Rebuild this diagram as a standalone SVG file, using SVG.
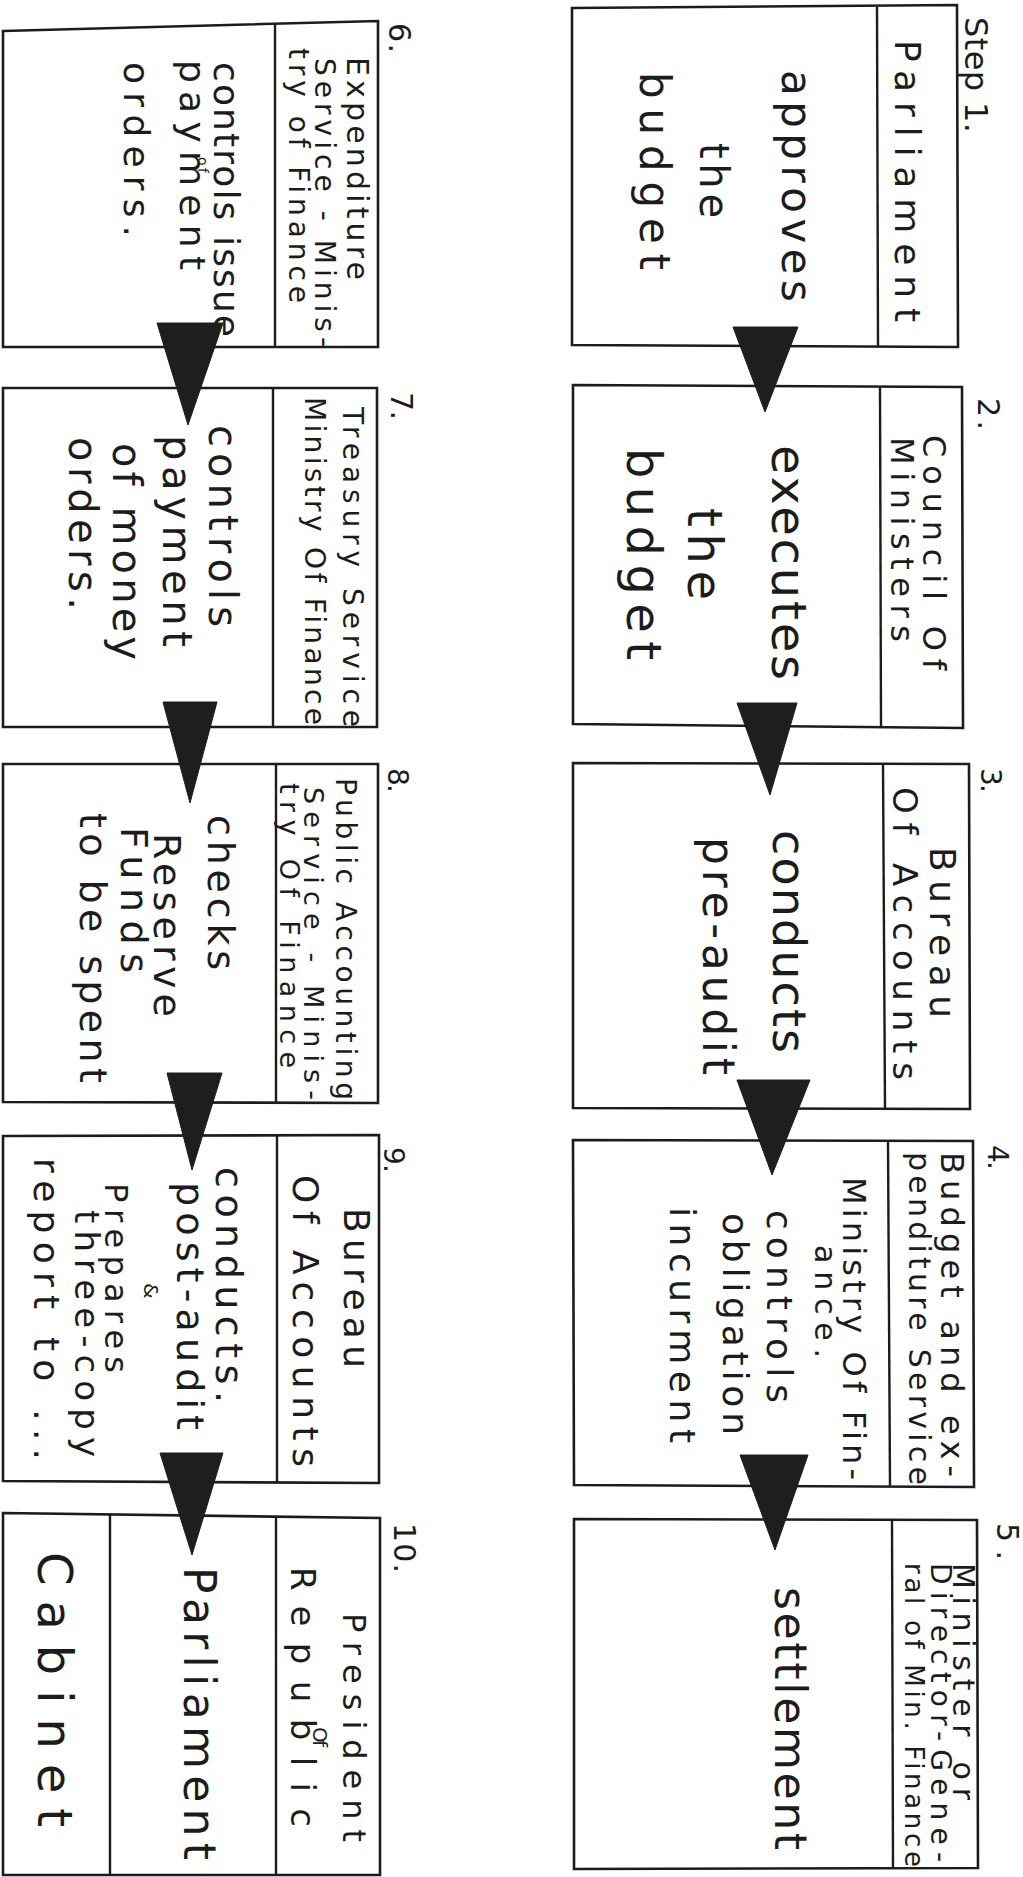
<svg xmlns="http://www.w3.org/2000/svg" width="1023" height="1877" viewBox="0 0 1023 1877">
<style>
.bg{fill:#ffffff}
.box{fill:none;stroke:#1c1c1c;stroke-width:2.6;stroke-linejoin:miter}
.div{fill:none;stroke:#1c1c1c;stroke-width:2.4}
.t{font-family:'DejaVu Sans','Liberation Sans',sans-serif;fill:#1c1c1c}
.arrow{fill:#1e1e1e;stroke:#1e1e1e;stroke-width:1}
</style>
<rect class="bg" x="0" y="0" width="1023" height="1877"/>

<g id="step1">
<path class="box" d="M572,8 L957,5 L958,347 L572,345 Z"/>
<line class="div" x1="877" y1="7" x2="878" y2="346"/>
<text class="t" transform="translate(965,17) rotate(90)" font-size="32" textLength="116">Step 1.</text>
<text class="t" transform="translate(895,40) rotate(90)" font-size="36" textLength="282">Parliament</text>
<text class="t" transform="translate(782,70) rotate(90)" font-size="42" textLength="232">approves</text>
<text class="t" transform="translate(700,143) rotate(90)" font-size="40" textLength="75">the</text>
<text class="t" transform="translate(640,72) rotate(90)" font-size="42" textLength="198">budget</text>
</g>

<g id="step2">
<path class="box" d="M573,385 L962,387 L963,728 L573,724 Z"/>
<line class="div" x1="880" y1="386" x2="881" y2="727"/>
<text class="t" transform="translate(978,398) rotate(90)" font-size="30" textLength="32">2.</text>
<text class="t" transform="translate(923,435) rotate(90)" font-size="32" textLength="235">Council Of</text>
<text class="t" transform="translate(891,437) rotate(90)" font-size="32" textLength="205">Ministers</text>
<text class="t" transform="translate(772,445) rotate(90)" font-size="48" textLength="235">executes</text>
<text class="t" transform="translate(688,508) rotate(90)" font-size="48" textLength="92">the</text>
<text class="t" transform="translate(627,448) rotate(90)" font-size="48" textLength="212">budget</text>
</g>

<g id="step3">
<path class="box" d="M573,763 L969,764 L970,1109 L573,1108 Z"/>
<line class="div" x1="883" y1="764" x2="885" y2="1108"/>
<text class="t" transform="translate(981,768) rotate(90)" font-size="28" textLength="25">3.</text>
<text class="t" transform="translate(930,847) rotate(90)" font-size="36" textLength="171">Bureau</text>
<text class="t" transform="translate(893,787) rotate(90)" font-size="34" textLength="293">Of Accounts</text>
<text class="t" transform="translate(773,830) rotate(90)" font-size="46" textLength="223">conducts</text>
<text class="t" transform="translate(703,837) rotate(90)" font-size="44" textLength="238">pre-audit</text>
</g>

<g id="step4">
<path class="box" d="M573,1140 L973,1141 L974,1487 L574,1485 Z"/>
<line class="div" x1="888" y1="1141" x2="890" y2="1486"/>
<text class="t" transform="translate(988,1145) rotate(90)" font-size="28" textLength="25">4.</text>
<text class="t" transform="translate(941,1152) rotate(90)" font-size="32" textLength="325">Budget and ex-</text>
<text class="t" transform="translate(909,1152) rotate(90)" font-size="30" textLength="333">penditure Service</text>
<text class="t" transform="translate(843,1177) rotate(90)" font-size="32" textLength="303">Ministry Of Fin-</text>
<text class="t" transform="translate(815,1245) rotate(90)" font-size="30" textLength="113">ance.</text>
<text class="t" transform="translate(767,1210) rotate(90)" font-size="36" textLength="193">controls</text>
<text class="t" transform="translate(723,1213) rotate(90)" font-size="36" textLength="222">obligation</text>
<text class="t" transform="translate(670,1207) rotate(90)" font-size="36" textLength="236">incurment</text>
</g>

<g id="step5">
<path class="box" d="M574,1519 L977,1520 L978,1868 L574,1869 Z"/>
<line class="div" x1="892" y1="1520" x2="893" y2="1868"/>
<text class="t" transform="translate(997,1523) rotate(90)" font-size="30" textLength="37">5.</text>
<text class="t" transform="translate(953,1563) rotate(90)" font-size="30" textLength="237">Minister or</text>
<text class="t" transform="translate(931,1563) rotate(90)" font-size="28" textLength="299">Director-Gene-</text>
<text class="t" transform="translate(905,1563) rotate(90)" font-size="26" textLength="304">ral of Min. Finance</text>
<text class="t" transform="translate(775,1587) rotate(90)" font-size="44" textLength="263">settlement</text>
</g>

<g id="step6">
<path class="box" d="M3,31 L378,21 L378,347 L3,347 Z"/>
<line class="div" x1="275" y1="24" x2="275" y2="347"/>
<text class="t" transform="translate(389,23) rotate(90)" font-size="30" textLength="30">6.</text>
<text class="t" transform="translate(347,57) rotate(90)" font-size="30" textLength="223">Expenditure</text>
<text class="t" transform="translate(315,58) rotate(90)" font-size="28" textLength="289">Service - Minis-</text>
<text class="t" transform="translate(289,48) rotate(90)" font-size="28" textLength="255">try of Finance</text>
<text class="t" transform="translate(214,62) rotate(90)" font-size="36" textLength="275">controls issue</text>
<text class="t" transform="translate(198,157) rotate(90)" font-size="14" textLength="16">of</text>
<text class="t" transform="translate(180,60) rotate(90)" font-size="36" textLength="210">payment</text>
<text class="t" transform="translate(124,62) rotate(90)" font-size="36" textLength="175">orders.</text>
</g>

<g id="step7">
<path class="box" d="M3,388 L377,388 L377,727 L3,727 Z"/>
<line class="div" x1="273" y1="388" x2="273" y2="727"/>
<text class="t" transform="translate(391,392) rotate(90)" font-size="30" textLength="28">7.</text>
<text class="t" transform="translate(343,407) rotate(90)" font-size="28" textLength="320">Treasury Service</text>
<text class="t" transform="translate(305,397) rotate(90)" font-size="28" textLength="328">Ministry Of Finance</text>
<text class="t" transform="translate(209,425) rotate(90)" font-size="40" textLength="202">controls</text>
<text class="t" transform="translate(163,435) rotate(90)" font-size="40" textLength="212">payment</text>
<text class="t" transform="translate(113,443) rotate(90)" font-size="40" textLength="217">of money</text>
<text class="t" transform="translate(69,437) rotate(90)" font-size="40" textLength="173">orders.</text>
</g>

<g id="step8">
<path class="box" d="M3,764 L378,764 L378,1103 L3,1102 Z"/>
<line class="div" x1="276" y1="764" x2="276" y2="1103"/>
<text class="t" transform="translate(388,768) rotate(90)" font-size="28" textLength="25">8.</text>
<text class="t" transform="translate(336,778) rotate(90)" font-size="28" textLength="322">Public Accounting</text>
<text class="t" transform="translate(304,787) rotate(90)" font-size="27" textLength="313">Service - Minis-</text>
<text class="t" transform="translate(280,783) rotate(90)" font-size="27" textLength="285">try Of Finance</text>
<text class="t" transform="translate(208,815) rotate(90)" font-size="38" textLength="155">checks</text>
<text class="t" transform="translate(154,833) rotate(90)" font-size="38" textLength="184">Reserve</text>
<text class="t" transform="translate(121,827) rotate(90)" font-size="38" textLength="146">Funds</text>
<text class="t" transform="translate(80,813) rotate(90)" font-size="38" textLength="270">to be spent</text>
</g>

<g id="step9">
<path class="box" d="M3,1136 L379,1135 L379,1483 L3,1481 Z"/>
<line class="div" x1="277" y1="1135" x2="277" y2="1482"/>
<text class="t" transform="translate(384,1147) rotate(90)" font-size="28" textLength="26">9.</text>
<text class="t" transform="translate(344,1208) rotate(90)" font-size="36" textLength="160">Bureau</text>
<text class="t" transform="translate(293,1175) rotate(90)" font-size="36" textLength="292">Of Accounts</text>
<text class="t" transform="translate(216,1167) rotate(90)" font-size="38" textLength="236">conducts.</text>
<text class="t" transform="translate(177,1182) rotate(90)" font-size="38" textLength="248">post-audit</text>
<text class="t" transform="translate(144,1283) rotate(90)" font-size="20" textLength="24">&amp;</text>
<text class="t" transform="translate(105,1183) rotate(90)" font-size="32" textLength="190">Prepares</text>
<text class="t" transform="translate(75,1210) rotate(90)" font-size="34" textLength="247">three-copy</text>
<text class="t" transform="translate(34,1158) rotate(90)" font-size="36" textLength="302">report to ...</text>
</g>

<g id="step10">
<path class="box" d="M3,1513 L380,1518 L380,1875 L3,1875 Z"/>
<line class="div" x1="276" y1="1517" x2="276" y2="1875"/>
<line class="div" x1="110" y1="1515" x2="110" y2="1875"/>
<text class="t" transform="translate(394,1523) rotate(90)" font-size="30" textLength="50">10.</text>
<text class="t" transform="translate(343,1613) rotate(90)" font-size="32" textLength="229">President</text>
<text class="t" transform="translate(313,1727) rotate(90)" font-size="20" textLength="20">Of</text>
<text class="t" transform="translate(291,1567) rotate(90)" font-size="34" textLength="260">Republic</text>
<text class="t" transform="translate(184,1567) rotate(90)" font-size="44" textLength="293">Parliament</text>
<text class="t" transform="translate(38,1552) rotate(90)" font-size="48" textLength="275">Cabinet</text>
</g>

<g id="connectors">
<polygon class="arrow" points="733,327 798,327 765,412"/>
<polygon class="arrow" points="737,703 797,703 770,795"/>
<polygon class="arrow" points="737,1080 810,1080 772,1175"/>
<polygon class="arrow" points="740,1455 808,1455 775,1550"/>
<polygon class="arrow" points="157,323 223,323 188,425"/>
<polygon class="arrow" points="163,702 217,702 190,803"/>
<polygon class="arrow" points="167,1073 222,1073 192,1170"/>
<polygon class="arrow" points="160,1453 223,1453 192,1555"/>
</g>
</svg>
